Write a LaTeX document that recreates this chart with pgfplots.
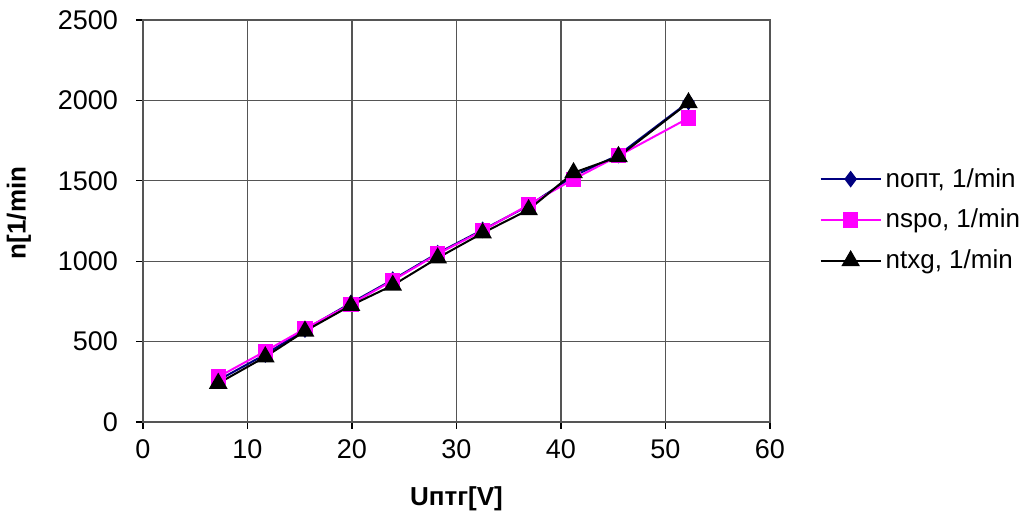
\documentclass[border=0pt]{standalone}
\usepackage{fontspec}
\setmainfont{Liberation Sans}
\usepackage{pgfplots}
\pgfplotsset{compat=1.18}
\definecolor{navyb}{HTML}{000080}
\definecolor{pinkm}{HTML}{FF00FF}
\definecolor{gridc}{HTML}{555555}
\begin{document}
\begin{tikzpicture}
\useasboundingbox (-71.5pt,-47.5pt) rectangle (446pt,211pt);
\begin{axis}[
  at={(0,0)}, anchor=origin,
  scale only axis,
  width=313.5pt, height=201pt,
  xmin=0, xmax=60, ymin=0, ymax=2500,
  xtick={0,10,...,60}, ytick={0,500,...,2500},
  xtick pos=bottom, ytick pos=left,
  grid=major,
  major grid style={gridc, line width=0.6pt},
  axis line style={gridc, line width=0.8pt},
  tick style={black, line width=0.6pt},
  tick align=outside,
  major tick length=3.5pt,
  /pgf/number format/assume math mode=true,
  /pgf/number format/1000 sep={},
  ticklabel style={font=\fontsize{13.5}{15}\selectfont},
  xticklabel style={yshift=-2pt},
  yticklabel style={xshift=-5.5pt},
  xlabel={\textbf{Uптг[V]}},
  ylabel={\textbf{n[1/min}},
  xlabel style={at={(axis description cs:0.5,-0.19)}, anchor=center, font=\fontsize{13}{15}\selectfont},
  ylabel style={at={(axis description cs:-0.198,0.52)}, anchor=center, font=\fontsize{13}{15}\selectfont},
  legend style={draw=none, fill=none, at={(1.069,0.5025)}, anchor=west,
    font=\fontsize{13}{15}\selectfont, row sep=5.5pt},
  legend cell align=left,
  legend image code/.code={\draw[#1, mark repeat=2, mark phase=2] plot coordinates {(0pt,0pt) (15pt,0pt) (30pt,0pt)};},
]
\addplot[navyb, line width=1pt, mark=diamond*, mark size=3.4pt, mark options={solid, fill=navyb}] coordinates {
(7.2,260) (11.7,420) (15.5,575) (19.9,740) (23.9,885) (28.2,1050) (32.5,1195) (36.9,1345) (41.2,1530) (45.5,1660) (52.2,1990)};
\addlegendentry{nопт, 1/min}
\addplot[pinkm, line width=1pt, mark=square*, mark size=3.3pt, mark options={solid, fill=pinkm}] coordinates {
(7.2,280) (11.7,440) (15.5,580) (19.9,733) (23.9,880) (28.2,1045) (32.5,1190) (36.9,1350) (41.2,1510) (45.5,1655) (52.2,1890)};
\addlegendentry{nspo, 1/min}
\addplot[black, line width=1pt, mark=triangle*, mark size=4.4pt, mark options={solid, fill=black}] coordinates {
(7.2,240) (11.7,405) (15.5,565) (19.9,725) (23.9,850) (28.2,1020) (32.5,1175) (36.9,1320) (41.2,1550) (45.5,1650) (52.2,1985)};
\addlegendentry{ntxg, 1/min}
\end{axis}
\end{tikzpicture}
\end{document}
